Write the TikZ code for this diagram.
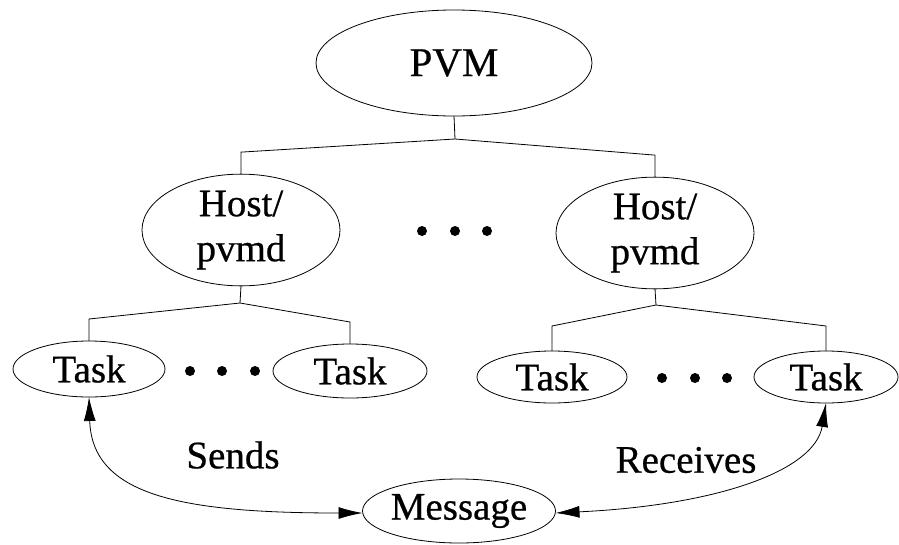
\documentclass[tikz,border=0pt]{standalone}
\usepackage{fontspec}
\setmainfont{Liberation Serif}[FakeBold=0.6]
\usetikzlibrary{shapes.geometric,arrows.meta}
\begin{document}
\begin{tikzpicture}[x=1pt,y=-1pt,
  every node/.style={inner sep=0pt, outer sep=0pt},
  oval/.style={ellipse, draw, line width=0.8pt, font=\fontsize{39}{45}\selectfont, align=center},
  dotnode/.style={circle, fill=black, minimum size=10pt},
  lbl/.style={font=\fontsize{39}{45}\selectfont},
  wire/.style={line width=0.8pt},
  arr/.style={line width=0.8pt, {Latex[length=24pt,width=12pt]}-{Latex[length=24pt,width=12pt]}}
]
\useasboundingbox (0,0) rectangle (899,544);

\node[oval, minimum width=276pt, minimum height=106pt, font=\fontsize{41}{45}\selectfont] (pvm) at (454,63) {PVM};
\node[oval, minimum width=198pt, minimum height=96pt] (h1) at (241,230) {Host/\\pvmd};
\node[oval, minimum width=198pt, minimum height=96pt] (h2) at (655,233) {Host/\\pvmd};

\node[oval, minimum width=152pt, minimum height=56pt] (t1) at (89,369) {Task};
\node[oval, minimum width=154pt, minimum height=54pt] (t2) at (350,371) {Task};
\node[oval, minimum width=150pt, minimum height=52pt] (t3) at (552,377) {Task};
\node[oval, minimum width=144pt, minimum height=52pt] (t4) at (826,377) {Task};

\node[oval, minimum width=168pt, minimum height=64pt] (msg) at (459,511) {Message};

\node[dotnode] (d1) at (422,231) {};
\node[dotnode] (d2) at (455,231) {};
\node[dotnode] (d3) at (487,231) {};
\node[dotnode] (d4) at (190,371) {};
\node[dotnode] (d5) at (222,371) {};
\node[dotnode] (d6) at (255,371) {};
\node[dotnode] (d7) at (662,378) {};
\node[dotnode] (d8) at (695,378) {};
\node[dotnode] (d9) at (727,378) {};

\node[lbl] (sends) at (233,455) {Sends};
\node[lbl] (recv) at (686,460) {Receives};

\coordinate (j0) at (455,139);
\coordinate (j1) at (240,303);
\coordinate (j2) at (656,305);

\draw[wire] (pvm.south) -- (j0);
\draw[wire] (j0) -- ([yshift=22pt]h1.north) -- (h1.north);
\draw[wire] (j0) -- ([yshift=22pt]h2.north) -- (h2.north);

\draw[wire] (h1.south) -- (j1);
\draw[wire] (j1) -- ([yshift=22pt]t1.north) -- (t1.north);
\draw[wire] (j1) -- ([yshift=22pt]t2.north) -- (t2.north);

\draw[wire] (h2.south) -- (j2);
\draw[wire] (j2) -- ([yshift=25pt]t3.north) -- (t3.north);
\draw[wire] (j2) -- ([yshift=25pt]t4.north) -- (t4.north);

\draw[arr] (t1.south) .. controls (92,495) and (180,513) .. ([yshift=-2pt]msg.west);
\draw[arr] ([yshift=-2pt]msg.east) .. controls (720,505) and (815,470) .. (t4.south);
\end{tikzpicture}
\end{document}
